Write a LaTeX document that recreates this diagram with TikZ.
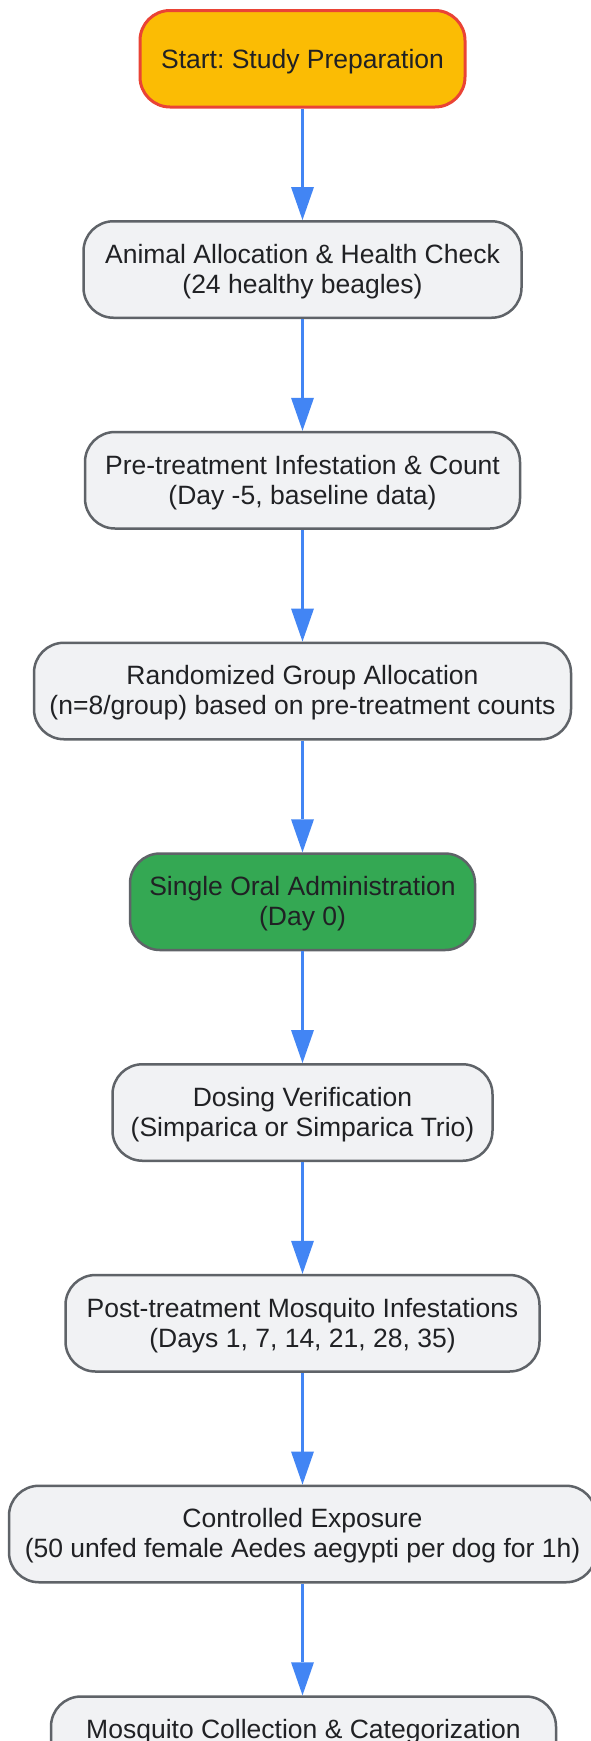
\documentclass[tikz,border=0pt]{standalone}
\usepackage{fontspec}
\setmainfont{Liberation Sans}
\frenchspacing
\usetikzlibrary{arrows.meta}
\definecolor{boxfill}{HTML}{F1F2F4}
\definecolor{boxline}{HTML}{5F6368}
\definecolor{textc}{HTML}{202124}
\definecolor{flowblue}{HTML}{4285F4}
\definecolor{startyellow}{HTML}{FBBC04}
\definecolor{startred}{HTML}{EA4335}
\definecolor{okgreen}{HTML}{34A853}
\begin{document}
\begin{tikzpicture}[x=1pt,y=-1pt,
  stepbox/.style={draw=boxline, fill=boxfill, line width=2.5pt, rounded corners=30pt,
    minimum height=96.5pt, inner sep=0pt, align=center, text=textc,
    font=\fontsize{26.5}{30}\selectfont, text height=50.8pt, text depth=3pt},
  onebox/.style={stepbox, text height=22.4pt, text depth=3pt},
  flow/.style={draw=flowblue, line width=3pt,
    -{Triangle[length=33pt,width=23pt,line width=0pt]}}]
\useasboundingbox (0,0) rectangle (591,1741);
\clip (0,0) rectangle (591,1741);
\fill[white] (0,0) rectangle (591,1741);
\node[onebox, minimum width=325pt, fill=startyellow, draw=startred, line width=3pt] (n1) at (302.5,58.75) {Start: Study Preparation};
\node[stepbox, minimum width=438pt] (n2) at (302.5,269.5) {Animal Allocation \& Health Check\\(24 healthy beagles)};
\node[stepbox, minimum width=435pt] (n3) at (302.5,480.25) {Pre-treatment Infestation \& Count\\(Day -5, baseline data)};
\node[stepbox, minimum width=537pt] (n4) at (302.5,691) {Randomized Group Allocation\\(n=8/group) based on pre-treatment counts};
\node[stepbox, minimum width=345pt, fill=okgreen] (n5) at (302.5,901.75) {Single Oral Administration\\(Day 0)};
\node[stepbox, minimum width=380pt] (n6) at (302.5,1112.5) {Dosing Verification\\(Simparica or Simparica Trio)};
\node[stepbox, minimum width=474pt] (n7) at (302.5,1323.25) {Post-treatment Mosquito Infestations\\(Days 1, 7, 14, 21, 28, 35)};
\node[stepbox, minimum width=587pt] (n8) at (302.5,1534) {Controlled Exposure\\(50 unfed female Aedes aegypti per dog for 1h)};
\node[stepbox, minimum width=505pt] (n9) at (303.5,1744.75) {Mosquito Collection \& Categorization\\\strut};
\draw[flow] (n1.south) -- (n2.north);
\draw[flow] (n2.south) -- (n3.north);
\draw[flow] (n3.south) -- (n4.north);
\draw[flow] (n4.south) -- (n5.north);
\draw[flow] (n5.south) -- (n6.north);
\draw[flow] (n6.south) -- (n7.north);
\draw[flow] (n7.south) -- (n8.north);
\draw[flow] (n8.south) -- (n9.north -| n8.south);
\end{tikzpicture}
\end{document}
